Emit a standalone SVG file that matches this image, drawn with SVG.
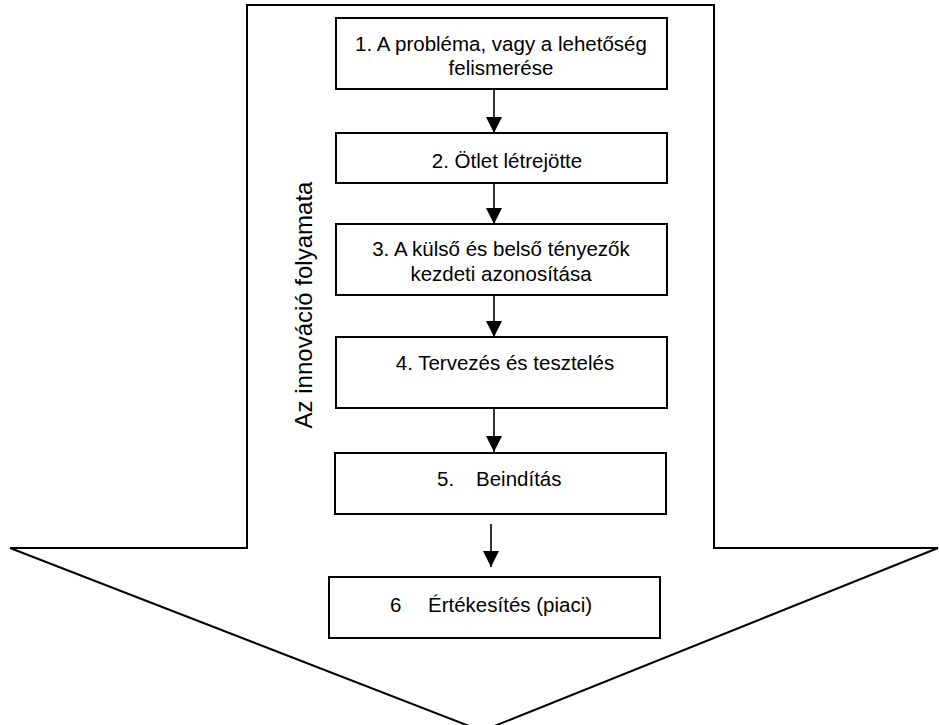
<svg xmlns="http://www.w3.org/2000/svg" width="939" height="725" viewBox="0 0 939 725">
<style>
.box{fill:#fff;stroke:#000;stroke-width:2}
.t{font-family:"Liberation Sans",Arial,sans-serif;font-size:20.5px;fill:#000}
.c{text-anchor:middle}
.conn{stroke:#000;stroke-width:1.6;fill:none}
</style>
<defs>
<marker id="ah" markerUnits="userSpaceOnUse" markerWidth="16" markerHeight="16" viewBox="0 0 16 16" refX="16" refY="8" orient="auto">
<path d="M0,0 L16,8 L0,16 Z" fill="#000"/>
</marker>
</defs>
<rect width="939" height="725" fill="#fff"/>
<g id="outer-arrow">
<polygon points="247,5 714,5 714,548 938,548 482,731 10,548 247,548" fill="#fff" stroke="#000" stroke-width="2"/>
<text class="t" transform="translate(312,305) rotate(-90)" text-anchor="middle" style="font-size:24px">Az innováció folyamata</text>
</g>
<g id="connectors">
<line class="conn" x1="494" y1="89" x2="494" y2="133" marker-end="url(#ah)"/>
<line class="conn" x1="494" y1="183" x2="494" y2="224" marker-end="url(#ah)"/>
<line class="conn" x1="494" y1="295" x2="494" y2="337" marker-end="url(#ah)"/>
<line class="conn" x1="494" y1="408" x2="494" y2="452" marker-end="url(#ah)"/>
<line class="conn" x1="491" y1="524" x2="491" y2="567" marker-end="url(#ah)"/>
</g>
<g id="n1">
<rect class="box" x="336" y="18" width="331" height="71"/>
<text class="t c" x="501" y="51">1. A probléma, vagy a lehetőség</text>
<text class="t c" x="501" y="75">felismerése</text>
</g>
<g id="n2">
<rect class="box" x="336" y="133" width="331" height="50"/>
<text class="t c" x="507" y="168">2. Ötlet létrejötte</text>
</g>
<g id="n3">
<rect class="box" x="336" y="224" width="331" height="71"/>
<text class="t c" x="501" y="256">3. A külső és belső tényezők</text>
<text class="t c" x="501" y="281">kezdeti azonosítása</text>
</g>
<g id="n4">
<rect class="box" x="336" y="337" width="331" height="71"/>
<text class="t c" x="505" y="370">4. Tervezés és tesztelés</text>
</g>
<g id="n5">
<rect class="box" x="335" y="453" width="331" height="61"/>
<text class="t" y="486"><tspan x="437">5.</tspan><tspan x="476">Beindítás</tspan></text>
</g>
<g id="n6">
<rect class="box" x="329" y="577" width="331" height="61"/>
<text class="t" y="612"><tspan x="390">6</tspan><tspan x="428">Értékesítés (piaci)</tspan></text>
</g>
</svg>
